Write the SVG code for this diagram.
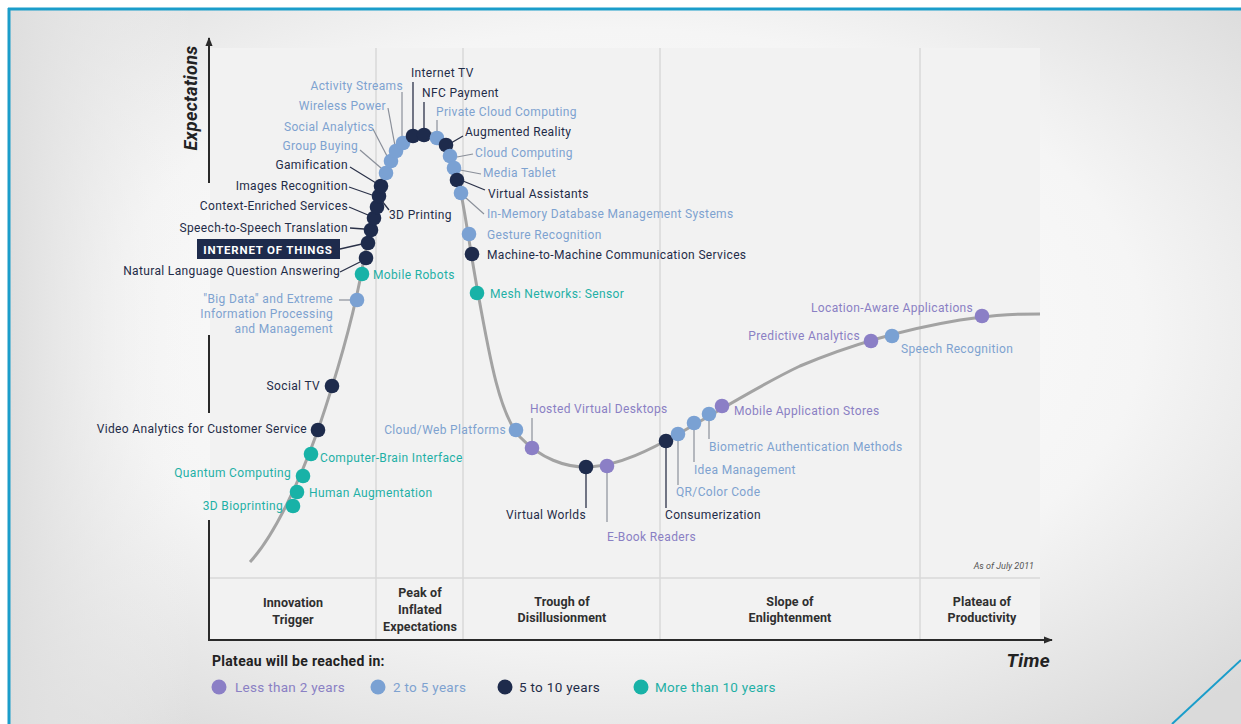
<svg xmlns="http://www.w3.org/2000/svg" width="1241" height="724" viewBox="0 0 1241 724">
<defs>
<radialGradient id="bg" cx="0.5" cy="0.45" r="0.7">
<stop offset="0" stop-color="#ffffff"/>
<stop offset="0.6" stop-color="#f5f5f5"/>
<stop offset="1" stop-color="#dadada"/>
</radialGradient>
<linearGradient id="lside" x1="0" y1="0" x2="1" y2="0">
<stop offset="0" stop-color="#dedede"/>
<stop offset="0.15" stop-color="#f4f4f4" stop-opacity="0"/>
</linearGradient>
<marker id="arr" viewBox="0 0 10 10" refX="9" refY="5" markerWidth="9" markerHeight="9" orient="auto" markerUnits="userSpaceOnUse">
<path d="M0,1 L10,5 L0,9 z" fill="#2a2a2a"/>
</marker>
<style>
text{font-family:Roboto,"Liberation Sans",sans-serif;font-size:12px;letter-spacing:0.35px}
.lp{fill:#8a80c4}.lb{fill:#7ea2d0}.dk{fill:#1f2c48}.tl{fill:#1fb0a6}
.dp{fill:#8b7fc6}.db{fill:#7aa1d3}.dd{fill:#1e2b4c}.dt{fill:#18b2a7}
.ldr{stroke:#8a8f99;stroke-width:1.2;fill:none}
.ldrb{stroke:#2a3148;stroke-width:1.3;fill:none}
.ph{font-weight:bold;font-size:12.5px;fill:#2f2f2f;text-anchor:middle;letter-spacing:0.1px}
.r{text-anchor:end}
.lg{font-size:13.5px;letter-spacing:0.3px}
</style>
</defs>
<rect x="0" y="0" width="1241" height="724" fill="#ffffff"/>
<rect x="8" y="8" width="1233" height="716" fill="url(#bg)"/>
<rect x="8" y="8" width="1233" height="716" fill="url(#lside)"/>
<!-- plot panel -->
<rect x="210" y="48" width="830" height="592" fill="#f2f2f2"/>
<g stroke="#d9d9d9" stroke-width="1.5">
<line x1="376" y1="48" x2="376" y2="640"/>
<line x1="463" y1="48" x2="463" y2="640"/>
<line x1="660" y1="48" x2="660" y2="640"/>
<line x1="920" y1="48" x2="920" y2="640"/>
<line x1="210" y1="578" x2="1040" y2="578"/>
</g>
<!-- frame -->
<g stroke="#1a9dca" stroke-width="3" fill="none">
<line x1="8" y1="9" x2="1241" y2="9"/>
<line x1="9" y1="8" x2="9" y2="724"/>
<line x1="1172" y1="724" x2="1241" y2="660" stroke-width="2"/>
</g>
<!-- axes -->
<g id="axes" stroke="#2a2a2a" stroke-width="2">
<line x1="209" y1="183" x2="209" y2="38" marker-end="url(#arr)"/>
<line x1="209" y1="335" x2="209" y2="413"/>
<line x1="209" y1="520" x2="209" y2="641"/>
<line x1="208" y1="640" x2="1052" y2="640" marker-end="url(#arr)"/>
</g>
<g id="axis-labels">
<text x="0" y="0" transform="translate(197,98) rotate(-90)" text-anchor="middle" style="font-size:18px;font-weight:bold;font-style:italic;fill:#222;letter-spacing:0.3px">Expectations</text>
<text x="1050" y="667" text-anchor="end" style="font-size:19px;font-weight:bold;font-style:italic;fill:#222">Time</text>
<text x="1034" y="569" text-anchor="end" style="font-size:9px;font-style:italic;fill:#555;letter-spacing:0">As of July 2011</text>
</g>
<!-- phases -->
<g id="phases">
<text class="ph" x="293" y="607">Innovation</text>
<text class="ph" x="293" y="624">Trigger</text>
<text class="ph" x="420" y="597">Peak of</text>
<text class="ph" x="420" y="614">Inflated</text>
<text class="ph" x="420" y="631">Expectations</text>
<text class="ph" x="562" y="606">Trough of</text>
<text class="ph" x="562" y="622">Disillusionment</text>
<text class="ph" x="790" y="606">Slope of</text>
<text class="ph" x="790" y="622">Enlightenment</text>
<text class="ph" x="982" y="606">Plateau of</text>
<text class="ph" x="982" y="622">Productivity</text>
</g>
<!-- curve -->
<path id="curve" d="M250,562 C275,535 300,480 318,430 C335,380 350,330 360,280 C368,240 375,195 390,160 C400,140 412,130 425,132 C440,133 452,150 458,178 C465,210 470,250 478,293 C490,360 500,415 520,437 C540,458 565,468 590,467 C620,465 650,450 680,433 C720,410 760,385 800,366 C850,345 900,330 960,320 C1000,314 1020,314 1040,314" fill="none" stroke="#a3a3a3" stroke-width="3"/>
<!-- connectors -->
<g id="connectors">
<line class="ldrb" x1="413" y1="82" x2="413" y2="130"/>
<line class="ldrb" x1="424" y1="102" x2="424" y2="130"/>
<line class="ldr" x1="437" y1="120" x2="437" y2="132"/>
<line class="ldr" x1="402" y1="92" x2="402" y2="138"/>
<line class="ldr" x1="388" y1="108" x2="395" y2="146"/>
<line class="ldr" x1="373" y1="129" x2="387" y2="156"/>
<line class="ldr" x1="360" y1="150" x2="381" y2="168"/>
<line class="ldrb" x1="350" y1="167" x2="376" y2="183"/>
<line class="ldrb" x1="349" y1="187" x2="372" y2="195"/>
<line class="ldrb" x1="349" y1="207" x2="368" y2="215"/>
<line class="ldrb" x1="350" y1="228" x2="364" y2="229"/>
<line class="ldrb" x1="340" y1="249" x2="362" y2="244"/>
<line class="ldrb" x1="340" y1="272" x2="360" y2="262"/>
<line class="ldrb" x1="382" y1="201" x2="389" y2="210"/>
<line class="ldr" x1="339" y1="300" x2="350" y2="300"/>
<line class="ldrb" x1="451" y1="143" x2="463" y2="136"/>
<line class="ldr" x1="457" y1="157" x2="473" y2="154"/>
<line class="ldr" x1="460" y1="170" x2="481" y2="174"/>
<line class="ldrb" x1="463" y1="181" x2="485" y2="190"/>
<line class="ldr" x1="466" y1="198" x2="484" y2="214"/>
<line class="ldr" x1="532" y1="418" x2="532" y2="441"/>
<line class="ldrb" x1="586" y1="474" x2="586" y2="508"/>
<line class="ldr" x1="607" y1="473" x2="607" y2="522"/>
<line class="ldrb" x1="666" y1="448" x2="666" y2="508"/>
<line class="ldr" x1="678" y1="441" x2="678" y2="485"/>
<line class="ldr" x1="694" y1="430" x2="694" y2="462"/>
<line class="ldr" x1="709" y1="421" x2="709" y2="439"/>
</g>
<!-- nodes -->
<g id="n-3d-bioprinting"><circle class="dt" cx="293" cy="506" r="7.3"/><text class="tl r" x="283" y="510">3D Bioprinting</text></g>
<g id="n-human-aug"><circle class="dt" cx="297" cy="492" r="7.3"/><text class="tl" x="309" y="497">Human Augmentation</text></g>
<g id="n-quantum"><circle class="dt" cx="303" cy="476" r="7.3"/><text class="tl r" x="291" y="477">Quantum Computing</text></g>
<g id="n-cbi"><circle class="dt" cx="311" cy="454" r="7.3"/><text class="tl" x="320" y="462">Computer-Brain Interface</text></g>
<g id="n-video"><circle class="dd" cx="318" cy="430" r="7.3"/><text class="dk r" x="307" y="433">Video Analytics for Customer Service</text></g>
<g id="n-socialtv"><circle class="dd" cx="332" cy="386" r="7.3"/><text class="dk r" x="320" y="390">Social TV</text></g>
<g id="n-bigdata"><circle class="db" cx="357" cy="300" r="7.3"/><text class="lb r" x="333" y="303">"Big Data" and Extreme</text><text class="lb r" x="333" y="318">Information Processing</text><text class="lb r" x="333" y="333">and Management</text></g>
<g id="n-mobilerobots"><circle class="dt" cx="362" cy="274" r="7.3"/><text class="tl" x="373" y="279">Mobile Robots</text></g>
<g id="n-nlqa"><circle class="dd" cx="366" cy="258" r="7.3"/><text class="dk r" x="340" y="275">Natural Language Question Answering</text></g>
<g id="n-iot"><circle class="dd" cx="368" cy="243" r="7.3"/><rect x="197" y="239" width="143" height="20" fill="#1e2b4c"/><text x="268" y="254" text-anchor="middle" style="fill:#fff;font-weight:bold;font-size:11.5px;letter-spacing:0.8px">INTERNET OF THINGS</text></g>
<g id="n-s2s"><circle class="dd" cx="371" cy="230" r="7.3"/><text class="dk r" x="348" y="232">Speech-to-Speech Translation</text></g>
<g id="n-context"><circle class="dd" cx="374" cy="218" r="7.3"/><text class="dk r" x="348" y="210">Context-Enriched Services</text></g>
<g id="n-3dprinting"><circle class="dd" cx="377" cy="207" r="7.3"/><text class="dk" x="389" y="219">3D Printing</text></g>
<g id="n-images"><circle class="dd" cx="379" cy="196" r="7.3"/><text class="dk r" x="348" y="190">Images Recognition</text></g>
<g id="n-gamification"><circle class="dd" cx="381" cy="186" r="7.3"/><text class="dk r" x="348" y="169">Gamification</text></g>
<g id="n-groupbuying"><circle class="db" cx="386" cy="173" r="7.3"/><text class="lb r" x="358" y="150">Group Buying</text></g>
<g id="n-socialanalytics"><circle class="db" cx="391" cy="161" r="7.3"/><text class="lb r" x="374" y="131">Social Analytics</text></g>
<g id="n-wireless"><circle class="db" cx="396" cy="151" r="7.3"/><text class="lb r" x="386" y="110">Wireless Power</text></g>
<g id="n-activity"><circle class="db" cx="403" cy="143" r="7.3"/><text class="lb r" x="403" y="90">Activity Streams</text></g>
<g id="n-internettv"><circle class="dd" cx="413" cy="136" r="7.3"/><text class="dk" x="411" y="77">Internet TV</text></g>
<g id="n-nfc"><circle class="dd" cx="424" cy="135" r="7.3"/><text class="dk" x="422" y="97">NFC Payment</text></g>
<g id="n-privatecloud"><circle class="db" cx="437" cy="138" r="7.3"/><text class="lb" x="436" y="116">Private Cloud Computing</text></g>
<g id="n-ar"><circle class="dd" cx="446" cy="145" r="7.3"/><text class="dk" x="465" y="136">Augmented Reality</text></g>
<g id="n-cloud"><circle class="db" cx="450" cy="156" r="7.3"/><text class="lb" x="475" y="157">Cloud Computing</text></g>
<g id="n-mediatablet"><circle class="db" cx="454" cy="168" r="7.3"/><text class="lb" x="483" y="177">Media Tablet</text></g>
<g id="n-va"><circle class="dd" cx="457" cy="180" r="7.3"/><text class="dk" x="488" y="198">Virtual Assistants</text></g>
<g id="n-inmemory"><circle class="db" cx="461" cy="193" r="7.3"/><text class="lb" x="487" y="218">In-Memory Database Management Systems</text></g>
<g id="n-gesture"><circle class="db" cx="469" cy="234" r="7.3"/><text class="lb" x="487" y="239">Gesture Recognition</text></g>
<g id="n-m2m"><circle class="dd" cx="472" cy="254" r="7.3"/><text class="dk" x="487" y="259">Machine-to-Machine Communication Services</text></g>
<g id="n-mesh"><circle class="dt" cx="477" cy="293" r="7.3"/><text class="tl" x="490" y="298">Mesh Networks: Sensor</text></g>
<g id="n-cloudweb"><circle class="db" cx="516" cy="430" r="7.3"/><text class="lb r" x="506" y="434">Cloud/Web Platforms</text></g>
<g id="n-hvd"><circle class="dp" cx="532" cy="448" r="7.3"/><text class="lp" x="530" y="413">Hosted Virtual Desktops</text></g>
<g id="n-vworlds"><circle class="dd" cx="586" cy="467" r="7.3"/><text class="dk" x="506" y="519">Virtual Worlds</text></g>
<g id="n-ebook"><circle class="dp" cx="607" cy="466" r="7.3"/><text class="lp" x="607" y="541">E-Book Readers</text></g>
<g id="n-consumer"><circle class="dd" cx="666" cy="441" r="7.3"/><text class="dk" x="665" y="519">Consumerization</text></g>
<g id="n-qr"><circle class="db" cx="678" cy="434" r="7.3"/><text class="lb" x="676" y="496">QR/Color Code</text></g>
<g id="n-idea"><circle class="db" cx="694" cy="423" r="7.3"/><text class="lb" x="694" y="474">Idea Management</text></g>
<g id="n-biometric"><circle class="db" cx="709" cy="414" r="7.3"/><text class="lb" x="709" y="451">Biometric Authentication Methods</text></g>
<g id="n-appstores"><circle class="dp" cx="722" cy="406" r="7.3"/><text class="lp" x="734" y="415">Mobile Application Stores</text></g>
<g id="n-predictive"><circle class="dp" cx="871" cy="341" r="7.3"/><text class="lp r" x="860" y="340">Predictive Analytics</text></g>
<g id="n-speech"><circle class="db" cx="892" cy="336" r="7.3"/><text class="lb" x="901" y="353">Speech Recognition</text></g>
<g id="n-location"><circle class="dp" cx="982" cy="316" r="7.3"/><text class="lp" x="811" y="312">Location-Aware Applications</text></g>
<!-- legend -->
<g id="legend">
<text x="212" y="666" style="font-weight:bold;font-size:14px;fill:#222;letter-spacing:0.3px">Plateau will be reached in:</text>
<circle class="dp" cx="219" cy="687" r="7.5"/><text class="lp lg" x="235" y="692">Less than 2 years</text>
<circle class="db" cx="378" cy="687" r="7.5"/><text class="lb lg" x="393" y="692">2 to 5 years</text>
<circle class="dd" cx="505" cy="687" r="7.5"/><text class="dk lg" x="519" y="692">5 to 10 years</text>
<circle class="dt" cx="641" cy="687" r="7.5"/><text class="tl lg" x="655" y="692">More than 10 years</text>
</g>
</svg>
